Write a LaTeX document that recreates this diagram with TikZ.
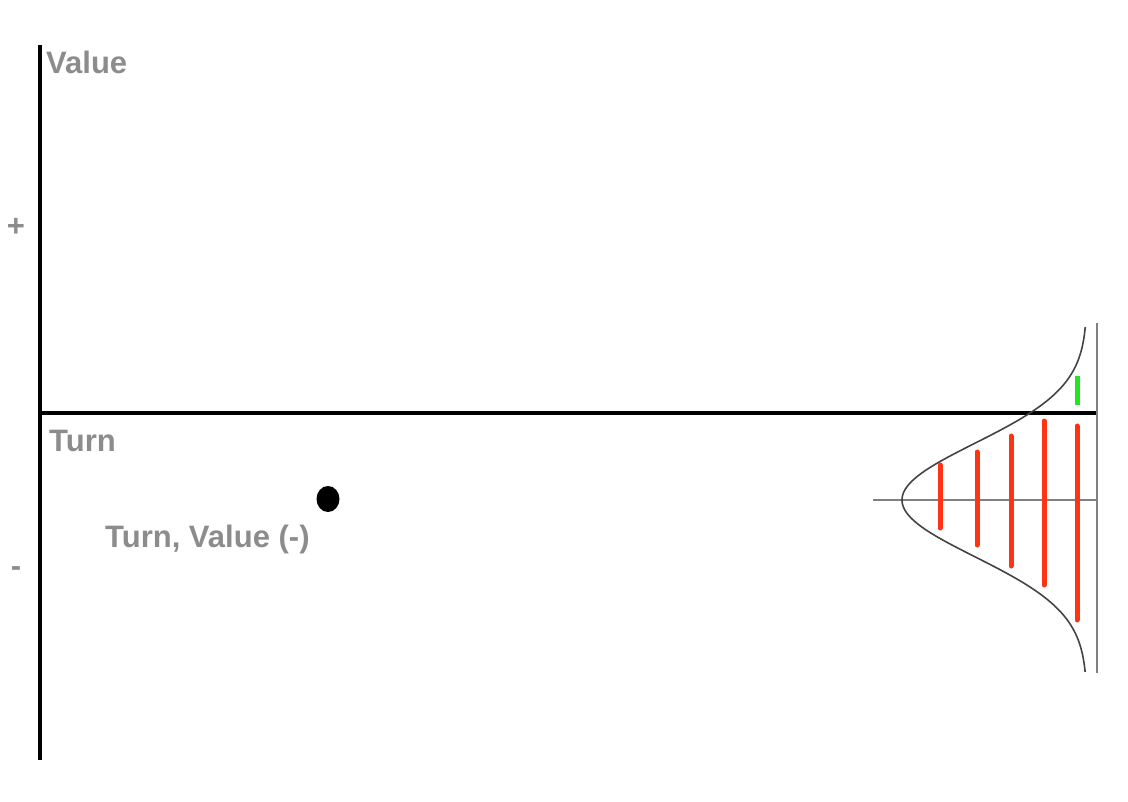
\documentclass[tikz,border=0pt]{standalone}
\usepackage{fontspec}
\usetikzlibrary{shapes.geometric}
\setmainfont{Liberation Sans}
\definecolor{lbl}{HTML}{8C8C8C}
\definecolor{redbar}{HTML}{FF3414}
\definecolor{greenbar}{HTML}{22E622}
\definecolor{curvegray}{HTML}{444444}
\definecolor{guidegray}{HTML}{808080}
\begin{document}
\begin{tikzpicture}[x=1pt,y=-1pt,
  axis/.style={line width=4.5pt,black},
  lbltext/.style={font=\fontsize{31}{35}\selectfont\bfseries,text=lbl,inner sep=0pt},
  guide/.style={line width=1.5pt,guidegray},
  bellcurve/.style={line width=1.6pt,curvegray},
  redbarstyle/.style={line width=5pt,redbar,line cap=round},
  greenbarstyle/.style={line width=5pt,greenbar}]
\useasboundingbox (0,0) rectangle (1128,802);
% axes
\coordinate (vtop) at (40,45);
\coordinate (vbot) at (40,760);
\coordinate (hleft) at (40,413);
\coordinate (hright) at (1097,413);
\draw[axis] (vtop) -- (vbot);
\draw[axis] (hleft) -- (hright);
% labels
\node[lbltext,anchor=base west] (value) at (46,74) {Value};
\node[lbltext,anchor=base west] (turn) at (49,451) {Turn};
\node[lbltext,anchor=base west] (turnvalue) at (105,547) {Turn, Value (-)};
\node[lbltext,anchor=center] (plus) at (16,227) {+};
\node[lbltext,anchor=center] (minus) at (16,572) {-};
% point
\node[ellipse,fill=black,minimum width=23pt,minimum height=26pt,inner sep=0pt] (dot) at (328,499) {};
% distribution guides
\coordinate (gl) at (873,500);
\coordinate (gr) at (1097,500);
\coordinate (gt) at (1097,323);
\coordinate (gb) at (1097,673);
\draw[guide] (gl) -- (gr);
\draw[guide] (gt) -- (gb);
% bell curve
\draw[bellcurve,domain=-1.73:1.72,samples=120,smooth] plot ({1087-185*exp(-(\x*\x)/0.643)},{500+100*\x});
% bars
\foreach \bx/\ya/\yb [count=\i] in {940/465/528, 977/452/545, 1011/436/566, 1044/421/585, 1077/426/620} {
  \coordinate (ra\i) at (\bx,\ya);
  \coordinate (rb\i) at (\bx,\yb);
  \draw[redbarstyle] (ra\i) -- (rb\i);
}
\coordinate (ga) at (1077,376);
\coordinate (gbb) at (1077,405);
\draw[greenbarstyle] (ga) -- (gbb);
\end{tikzpicture}
\end{document}
